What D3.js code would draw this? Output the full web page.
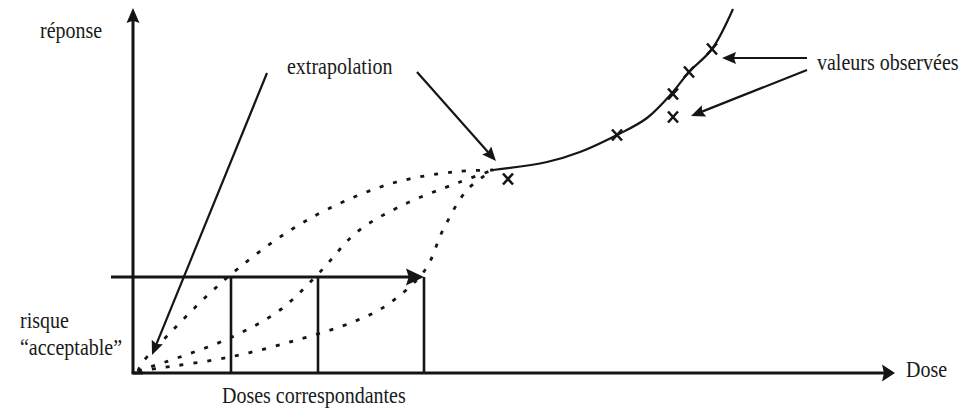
<!DOCTYPE html>
<html>
<head>
<meta charset="utf-8">
<script src="https://cdn.jsdelivr.net/npm/d3@7"></script>
<style>
  html, body { margin: 0; padding: 0; background: #fff; }
  text { font-family: "Liberation Serif", Tinos, "Times New Roman", serif; fill: #1a1a1a; }
</style>
</head>
<body>
<div id="schema"></div>
<script>
// points (dose, response), origin at the axes corner
var extrapUpper  = [[5,2],[9,10],[37,40],[77,80],[107,106],[150,138],[197,165],[260,190],[320,201],[360,203]];
var extrapMiddle = [[5,2],[17,6],[47,16],[99,36],[147,63],[187,101],[224,141],[270,168],[327,191],[360,203]];
var extrapLower  = [[5,2],[27,5],[97,16],[164,33],[220,51],[254,68],[292,103],[310,143],[334,183],[360,203]];
var fitted       = [[360,203],[414,211],[447,221],[484,238],[514,255],[539,280],[556,301],[579,324],[600,364]];
var observed     = [[375,194],[484,238],[540,279],[556,301],[579,324],[540,256]];

var riskLevel = 96;
var riskStart = -22;
var doses = [98, 185, 291];

var labels = [
  { text: "réponse", dose: -93, resp: 335 },
  { text: "extrapolation", dose: 154, resp: 299 },
  { text: "valeurs observées", dose: 684, resp: 303 },
  { text: "risque", dose: -113, resp: 45 },
  { text: "\u201cacceptable\u201d", dose: -113, resp: 18 },
  { text: "Doses correspondantes", dose: 89, resp: -30 },
  { text: "Dose", dose: 773, resp: -4 }
];

// pointer arrows [from, to]
var pointers = [
  [[134,300],[19,18]],
  [[284,301],[363,212]],
  [[674,315],[589,315]],
  [[674,303],[558,257]]
];

var width = 978, height = 410;

var svg = d3.select("#schema")
  .append("svg")
  .attr("width", width)
  .attr("height", height);

var x = d3.scaleLinear().domain([0, 762]).range([133, 895]);
var y = d3.scaleLinear().domain([0, 365]).range([373, 8]);

var ink = "#151515";

function arrowHead(p1, p2, len, half) {
  // p1, p2 in pixels, tip at p2
  var dx = p2[0] - p1[0], dy = p2[1] - p1[1];
  var d = Math.sqrt(dx * dx + dy * dy);
  var ux = dx / d, uy = dy / d;
  var bx = p2[0] - ux * len, by = p2[1] - uy * len;
  var pts = [
    [p2[0], p2[1]],
    [bx - uy * half, by + ux * half],
    [bx + ux * len * 0.15, by + uy * len * 0.15],
    [bx + uy * half, by - ux * half]
  ];
  svg.append("polygon")
    .attr("points", pts.map(function(p){ return p.join(","); }).join(" "))
    .attr("fill", ink);
}

function arrow(from, to, w, len, half) {
  var p1 = [x(from[0]), y(from[1])], p2 = [x(to[0]), y(to[1])];
  var dx = p2[0] - p1[0], dy = p2[1] - p1[1];
  var d = Math.sqrt(dx * dx + dy * dy);
  svg.append("line")
    .attr("x1", p1[0]).attr("y1", p1[1])
    .attr("x2", p2[0] - dx / d * len * 0.7)
    .attr("y2", p2[1] - dy / d * len * 0.7)
    .attr("stroke", ink)
    .attr("stroke-width", w);
  arrowHead(p1, p2, len, half);
}

// axes
arrow([0, 0], [0, 365], 3, 15, 6.5);
svg.append("line")
  .attr("x1", x(0) - 1.5).attr("y1", y(0))
  .attr("x2", x(0) + 10).attr("y2", y(0))
  .attr("stroke", ink).attr("stroke-width", 3);
arrow([0, 0], [762, 0], 3, 13, 8.5);

// acceptable risk level and corresponding doses
arrow([riskStart, riskLevel], [doses[2], riskLevel], 3, 18, 8.5);
svg.selectAll(".dose-line")
  .data(doses)
  .enter()
  .append("line")
    .attr("class", "dose-line")
    .attr("x1", function(d){ return x(d); })
    .attr("x2", function(d){ return x(d); })
    .attr("y1", y(riskLevel))
    .attr("y2", y(0))
    .attr("stroke", ink)
    .attr("stroke-width", 2.6);

var line = d3.line()
  .x(function(d){ return x(d[0]); })
  .y(function(d){ return y(d[1]); })
  .curve(d3.curveCatmullRom);

// extrapolated curves
svg.selectAll(".extrap")
  .data([extrapUpper, extrapMiddle, extrapLower])
  .enter()
  .append("path")
    .attr("class", "extrap")
    .attr("d", line)
    .attr("fill", "none")
    .attr("stroke", ink)
    .attr("stroke-width", 2.8)
    .style("stroke-dasharray", "4,10");

// fitted curve
svg.append("path")
  .attr("d", line(fitted))
  .attr("fill", "none")
  .attr("stroke", ink)
  .attr("stroke-width", 2.2);

// observed values
svg.selectAll(".obs")
  .data(observed)
  .enter()
  .append("path")
    .attr("class", "obs")
    .attr("d", function(d){
      var cx = x(d[0]), cy = y(d[1]);
      return "M" + (cx - 5) + "," + (cy - 5.5) + "L" + (cx + 5) + "," + (cy + 5.5) +
             "M" + (cx + 5) + "," + (cy - 5.5) + "L" + (cx - 5) + "," + (cy + 5.5);
    })
    .attr("stroke", ink)
    .attr("stroke-width", 2.6)
    .attr("fill", "none");

// pointer arrows
pointers.forEach(function(p){ arrow(p[0], p[1], 2.2, 14, 6); });

// labels
svg.selectAll(".label")
  .data(labels)
  .enter()
  .append("text")
    .attr("class", "label")
    .attr("font-family", "Liberation Serif, serif")
    .attr("transform", function(d){
      return "translate(" + x(d.dose) + "," + y(d.resp) + ") scale(1,1.2)";
    })
    .style("font-size", "20px")
    .text(function(d){ return d.text; });
</script>
</body>
</html>
